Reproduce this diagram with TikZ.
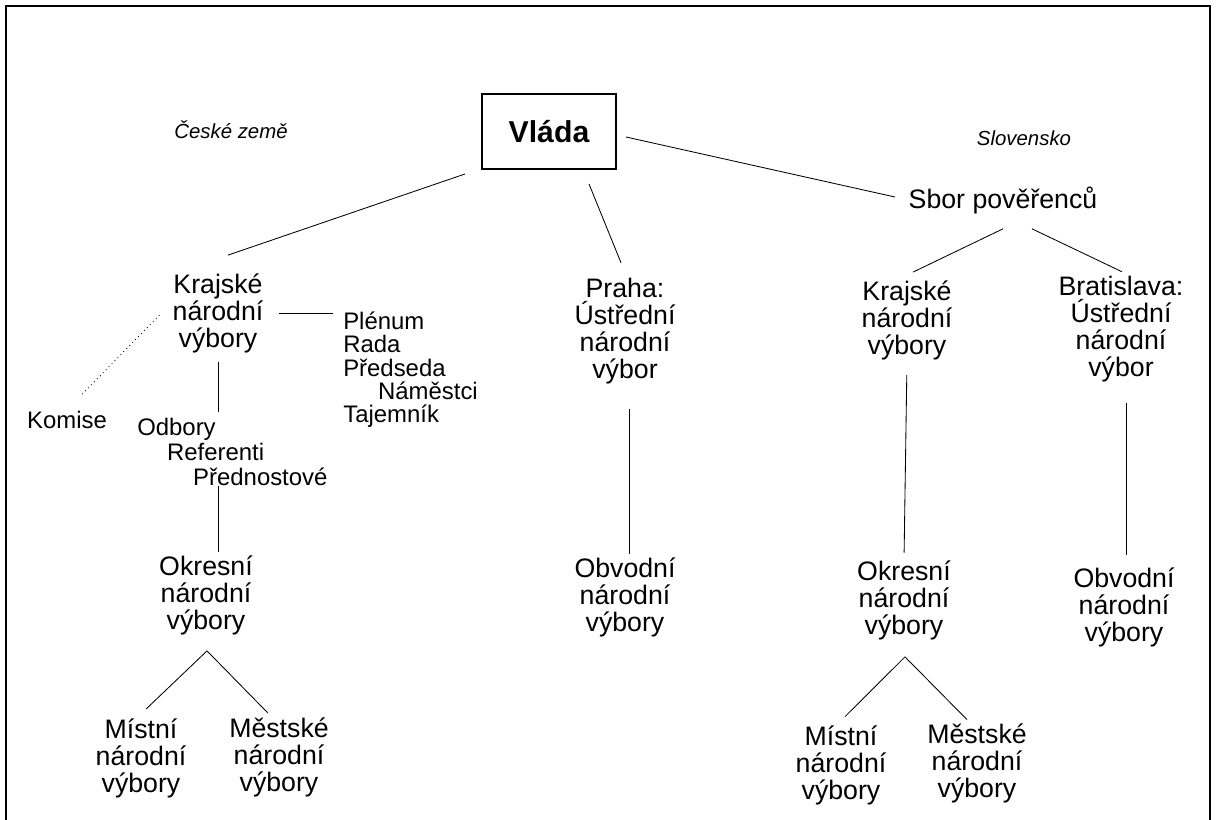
\documentclass[tikz,border=0pt]{standalone}
\usepackage{fontspec}
\setmainfont{Liberation Sans}
\newcommand{\orgfont}{\fontsize{19}{19.2}\selectfont\lineskiplimit-20pt\relax}
\newcommand{\stafffont}{\fontsize{17}{16.4}\selectfont\lineskiplimit-20pt\relax}
\tikzset{
    organ/.style={align=center, inner sep=0pt, font=\orgfont},
    staff/.style={align=left, inner sep=0pt, font=\stafffont},
    region/.style={inner sep=0pt, font=\fontsize{14.5}{15}\selectfont\itshape},
    govbox/.style={draw, line width=1.4pt, minimum width=3.35cm, minimum height=1.875cm, inner sep=0pt, font=\fontsize{21.5}{22}\selectfont\bfseries},
    link/.style={line width=0.6pt}
}

\begin{document}
\begin{tikzpicture}[x=0.025cm, y=-0.025cm]
    \useasboundingbox (0,0) rectangle (1216,820);
    \draw[line width=1.4pt] (6,820) -- (6,6) -- (1210,6) -- (1210,820);

    \node[govbox] (vlada) at (549,131.5) {Vláda};
    \node[region] (ceske) at (231,130) {České země};
    \node[region] (slov) at (1024,138) {Slovensko};
    \node[organ] (sbor) at (1003,201) {Sbor pověřenců};

    \node[organ] (krajL) at (218,313) {Krajské\\národní\\výbory};
    \node[staff, anchor=north west] (rada) at (343,312) {Plénum\\Rada\\Předseda\\\hspace*{1.46em}Náměstci\\Tajemník};
    \node[staff] (komise) at (67,420) {Komise};
    \node[staff, anchor=north west, font=\fontsize{17}{17.8}\selectfont] (odbory) at (137,418) {Odbory\\\hspace*{1.25em}Referenti\\\hspace*{2.34em}Přednostové};
    \node[organ] (okrL) at (206,595) {Okresní\\národní\\výbory};
    \node[organ] (mistL) at (141,758) {Místní\\národní\\výbory};
    \node[organ] (mestL) at (279,757) {Městské\\národní\\výbory};

    \node[organ] (praha) at (625,331) {Praha:\\Ústřední\\národní\\výbor};
    \node[organ] (obvM) at (625,597) {Obvodní\\národní\\výbory};

    \node[organ] (krajR) at (907,320) {Krajské\\národní\\výbory};
    \node[organ] (bratis) at (1121,329) {Bratislava:\\Ústřední\\národní\\výbor};
    \node[organ] (okrR) at (904,600) {Okresní\\národní\\výbory};
    \node[organ] (obvR) at (1124,607) {Obvodní\\národní\\výbory};
    \node[organ] (mistR) at (841,765) {Místní\\národní\\výbory};
    \node[organ] (mestR) at (977,763) {Městské\\národní\\výbory};

    \draw[link] ([shift={(-16,4)}]vlada.south west) -- ([shift={(10,-18)}]krajL.north);
    \draw[link] ([shift={(40,14)}]vlada.south) -- ([shift={(-4,-15)}]praha.north);
    \draw[link] ([shift={(9,5.5)}]vlada.east) -- ([shift={(-13.5,-4)}]sbor.west);
    \draw[link] ([shift={(0,14)}]sbor.south) -- ([shift={(6,-8)}]krajR.north);
    \draw[link] ([shift={(29,14)}]sbor.south) -- ([shift={(1,-4)}]bratis.north);

    \draw[link, shorten <=10.7pt, shorten >=7pt] (krajL.east) -- (krajL.east -| rada.west);
    \draw[link, dash pattern=on 0.6pt off 2.4pt] ([shift={(-13,2)}]krajL.west) -- ([shift={(13,-14.5)}]komise.north);
    \draw[link, shorten <=6.4pt, shorten >=4.3pt] (krajL.south) -- (krajL.south |- odbory.north);
    \draw[link, shorten >=2pt] (krajL.south |- odbory.south) -- (krajL.south |- okrL.north);
    \draw[link] ([shift={(5,-9)}]mistL.north) -- ([shift={(1,16)}]okrL.south) -- ([shift={(-11,-4)}]mestL.north);

    \draw[link] ([shift={(4,25)}]praha.south) -- ([shift={(4,-3)}]obvM.north);

    \draw[link, shorten <=10.7pt, shorten >=5.3pt] (krajR.south) -- (okrR.north);
    \draw[link] ([shift={(5,21)}]bratis.south) -- ([shift={(2,-12.5)}]obvR.north);
    \draw[link] ([shift={(4,-8.5)}]mistR.north) -- ([shift={(1,17)}]okrR.south) -- ([shift={(-10,-3.5)}]mestR.north);
\end{tikzpicture}
\end{document}
